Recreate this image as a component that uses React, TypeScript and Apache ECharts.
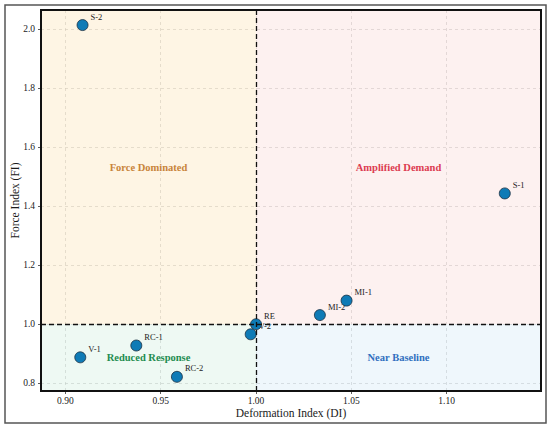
import React, { useEffect, useRef } from 'react';
import * as echarts from 'echarts';

const specimens = ['S-2', 'S-1', 'MI-1', 'MI-2', 'RE', 'V-2', 'RC-1', 'V-1', 'RC-2'];
const deformationIndex = [0.909, 1.1305, 1.0475, 1.0335, 1.0, 0.9972, 0.9372, 0.9078, 0.9585];
const forceIndex = [2.013, 1.443, 1.08, 1.031, 1.0, 0.966, 0.928, 0.888, 0.822];

const quadrantNames = ['Force Dominated', 'Amplified Demand', 'Reduced Response', 'Near Baseline'];
const quadrantFill = [
  'rgba(243,176,30,0.12)',
  'rgba(231,76,60,0.08)',
  'rgba(39,174,96,0.08)',
  'rgba(52,152,219,0.08)',
];
const quadrantText = ['#c8843a', '#dc3c50', '#1e8c50', '#3070c0'];

const X_RANGE = [0.8872, 1.1495];
const Y_RANGE = [0.774, 2.064];
const BASELINE = 1.0;

const FONT = "'Liberation Serif', 'Times New Roman', serif";

export default function App() {
  const ref = useRef<HTMLDivElement>(null);
  useEffect(() => {
    document.body.style.margin = '0';
    const chart = echarts.init(ref.current!, null, { renderer: 'svg' });
    const [x0, x1] = X_RANGE;
    const [y0, y1] = Y_RANGE;
    const bounds = [
      [[x0, BASELINE], [BASELINE, y1]],
      [[BASELINE, BASELINE], [x1, y1]],
      [[x0, y0], [BASELINE, BASELINE]],
      [[BASELINE, y0], [x1, BASELINE]],
    ];
    const areas = quadrantNames.map((name, i) => [
      {
        name,
        xAxis: bounds[i][0][0],
        yAxis: bounds[i][0][1],
        itemStyle: { color: quadrantFill[i] },
        label: {
          show: true,
          position: 'inside',
          color: quadrantText[i],
          fontWeight: 'bold',
          fontSize: 10.5,
          fontFamily: FONT,
        },
      },
      { xAxis: bounds[i][1][0], yAxis: bounds[i][1][1] },
    ]);
    const points = specimens.map((s, i) => ({ name: s, value: [deformationIndex[i], forceIndex[i]] }));

    const splitLine = { show: true, lineStyle: { color: '#d0d0d0', width: 0.6, type: [3, 3] } };
    chart.setOption({
      animation: false,
      grid: {
        left: 41,
        top: 10,
        right: 9,
        bottom: 39,
        containLabel: false,
        outerBoundsMode: 'none',
      },
      xAxis: {
        type: 'value',
        min: x0,
        max: x1,
        splitNumber: 5,
        name: 'Deformation Index (DI)',
        nameLocation: 'middle',
        nameGap: 16,
        nameMoveOverlap: false,
        nameTextStyle: { fontFamily: FONT, fontSize: 11.5, color: '#1a1a1a' },
        axisLine: { show: false },
        axisTick: { show: true, length: 3, lineStyle: { color: '#333', width: 0.8 } },
        axisLabel: {
          showMinLabel: false,
          showMaxLabel: false,
          margin: 5,
          fontFamily: FONT,
          fontSize: 9.5,
          color: '#222',
          formatter: (v: number) => v.toFixed(2),
        },
        splitLine,
      },
      yAxis: {
        type: 'value',
        min: y0,
        max: y1,
        splitNumber: 6,
        name: 'Force Index (FI)',
        nameLocation: 'middle',
        nameGap: 20,
        nameMoveOverlap: false,
        nameTextStyle: { fontFamily: FONT, fontSize: 11.5, color: '#1a1a1a' },
        axisLine: { show: false },
        axisTick: { show: true, length: 3, lineStyle: { color: '#333', width: 0.8 } },
        axisLabel: {
          showMinLabel: false,
          showMaxLabel: false,
          margin: 6,
          fontFamily: FONT,
          fontSize: 9.5,
          color: '#222',
          formatter: (v: number) => v.toFixed(1),
        },
        splitLine,
      },
      graphic: [
        {
          type: 'rect',
          z: 100,
          silent: true,
          shape: { x: 5, y: 5, width: 541, height: 418 },
          style: { fill: 'none', stroke: '#555', lineWidth: 1.5 },
        },
        {
          type: 'rect',
          z: 100,
          silent: true,
          shape: { x: 41, y: 10, width: 500, height: 381 },
          style: { fill: 'none', stroke: '#111', lineWidth: 2 },
        },
      ],
      series: [
        {
          type: 'scatter',
          z: 2,
          silent: true,
          symbolSize: 11,
          itemStyle: { color: 'rgba(0,0,0,0)', opacity: 1 },
          data: points,
          label: {
            show: true,
            position: [13.5, -3],
            align: 'left',
            verticalAlign: 'middle',
            formatter: '{b}',
            fontFamily: FONT,
            fontSize: 8.5,
            color: '#222',
          },
          markArea: { silent: true, data: areas },
          markLine: {
            silent: true,
            symbol: 'none',
            label: { show: false },
            lineStyle: { color: '#111', width: 1.3, type: [5, 3] },
            data: [{ xAxis: BASELINE }, { yAxis: BASELINE }],
          },
        },
        {
          type: 'scatter',
          z: 3,
          silent: true,
          symbolSize: 11,
          itemStyle: { color: '#0f7bb6', borderColor: '#1b2f40', borderWidth: 0.8, opacity: 1 },
          data: points,
        },
      ],
    });
    return () => chart.dispose();
  }, []);
  return <div ref={ref} style={{ width: 550, height: 430 }} />;
}
